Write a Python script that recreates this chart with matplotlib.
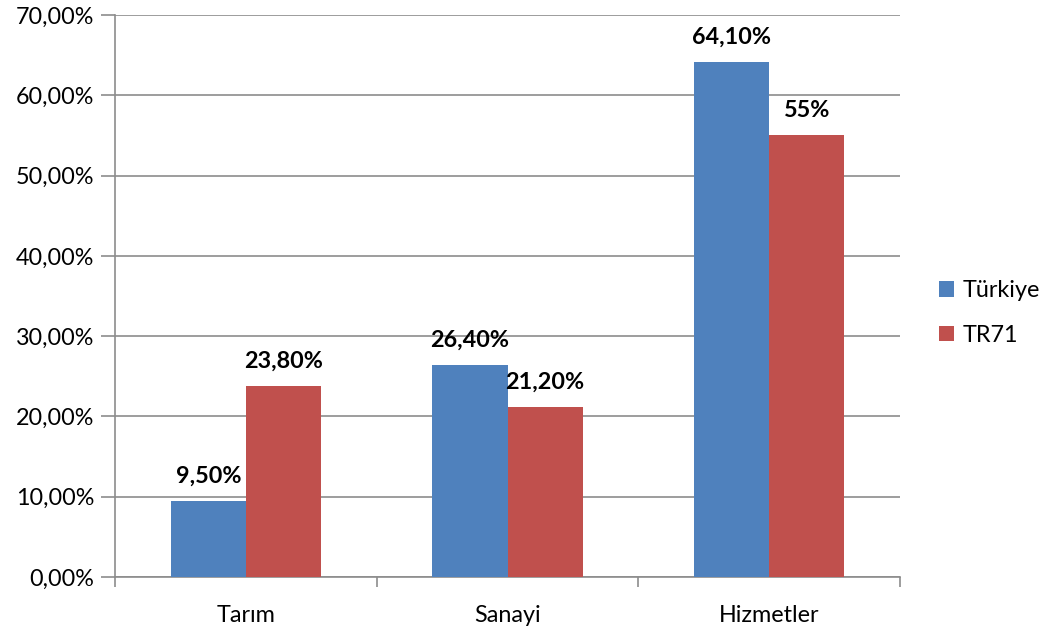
import matplotlib
matplotlib.use("Agg")
import matplotlib.pyplot as plt
import numpy as np
from matplotlib.patches import Patch

categories = ["Tarım", "Sanayi", "Hizmetler"]
series_names = ["Türkiye", "TR71"]
turkiye = [9.5, 26.4, 64.1]
tr71 = [23.8, 21.2, 55.0]
turkiye_labels = ["9,50%", "26,40%", "64,10%"]
tr71_labels = ["23,80%", "21,20%", "55%"]
yticks = [0, 10, 20, 30, 40, 50, 60, 70]
ytick_labels = ["0,00%", "10,00%", "20,00%", "30,00%", "40,00%", "50,00%", "60,00%", "70,00%"]

plt.rcParams['font.family'] = ['Lato', 'DejaVu Sans']

blue = "#4F81BD"
red = "#C0504D"
grid = "#8C8C8C"
fs = 16.8

fig = plt.figure(figsize=(10.5, 6.27), dpi=100)
ax = fig.add_axes([115/1050, 1-577/627, (900-115)/1050, (577-15)/627])

x = np.arange(len(categories))
w = 0.287
b1 = ax.bar(x - w/2, turkiye, w, color=blue, zorder=3)
b2 = ax.bar(x + w/2, tr71, w, color=red, zorder=3)

for rect, lab in zip(b1, turkiye_labels):
    ax.text(rect.get_x() + rect.get_width()/2, rect.get_height() + 1.8, lab,
            ha='center', va='bottom', fontsize=fs, fontweight='bold', color='black', zorder=4)
for rect, lab in zip(b2, tr71_labels):
    ax.text(rect.get_x() + rect.get_width()/2, rect.get_height() + 1.8, lab,
            ha='center', va='bottom', fontsize=fs, fontweight='bold', color='black', zorder=4)

ax.set_xlim(-0.5, 2.5)
ax.set_ylim(0, 70)
ax.set_yticks(yticks)
ax.set_yticklabels(ytick_labels, fontsize=fs)
ax.yaxis.grid(True, color=grid, linewidth=1.2, zorder=0)
ax.tick_params(axis='y', length=10, width=1.2, color=grid, pad=5)

ax.set_xticks(x)
ax.set_xticklabels(categories, fontsize=fs)
ax.set_xticks([-0.5, 0.5, 1.5, 2.5], minor=True)
ax.tick_params(axis='x', which='major', length=0, pad=20)
ax.tick_params(axis='x', which='minor', length=7, width=1.2, color=grid)

for s in ['top', 'right']:
    ax.spines[s].set_visible(False)
for s in ['left', 'bottom']:
    ax.spines[s].set_color(grid)
    ax.spines[s].set_linewidth(1.2)

handles = [Patch(facecolor=blue), Patch(facecolor=red)]
fig.legend(handles, series_names, loc='center left', bbox_to_anchor=(918/1050, 1-313/627),
           frameon=False, fontsize=fs, handlelength=0.65, handleheight=0.65,
           handletextpad=0.35, labelspacing=1.0)

fig.savefig("out.png", dpi=100)
